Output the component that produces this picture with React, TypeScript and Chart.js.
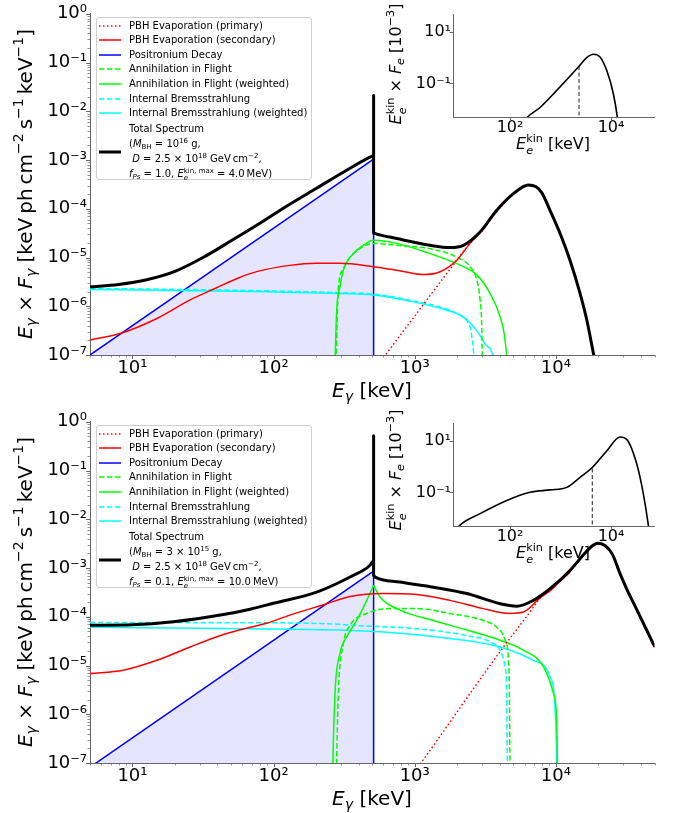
import React, { useEffect, useRef } from 'react';
import { Chart, registerables } from 'chart.js';

Chart.register(...registerables);

const FONT = '"DejaVu Sans", Verdana, sans-serif';

// ---------------- axes ----------------
const mainXMin = 5;
const mainXMax = 5e4;
const mainYMin = 1e-7;
const mainYMax = 1;
const insetXMin = 7.4;
const insetXMax = 7.1e4;
const insetYMin = 5e-3;
const insetYMax = 50;
const insetXTickValues = [100, 10000];
const insetYTickValues = [0.1, 10];
const lineEnergy = 511; // keV, positronium line

// ---------------- top panel (M_BH = 1e16 g) ----------------
const topTotalE = [5, 7.94, 12.6, 20, 31.6, 50, 79.4, 126, 200, 316, 501, 510.5, 511, 511.5, 525, 747, 1285, 1778, 2213, 2904, 3811, 5000, 6383, 7244, 7943, 9120, 10720, 12590, 14790, 16600, 18620, 20890];
const topTotalF = [2.5e-6, 2.8e-6, 3.5e-6, 5.2e-6, 1.0e-5, 2.2e-5, 5.0e-5, 1.17e-4, 2.6e-4, 5.75e-4, 1.2e-3, 1.22e-3, 2.1e-2, 3.2e-5, 3.1e-5, 2.45e-5, 1.78e-5, 1.6e-5, 1.78e-5, 3.34e-5, 9.3e-5, 2.04e-4, 3.09e-4, 2.82e-4, 2.14e-4, 9.1e-5, 3.1e-5, 8.8e-6, 1.9e-6, 5.1e-7, 9.5e-8, 2e-8];
const topPrimaryE = [603, 631, 1000, 1585, 2606, 2904, 3811, 5000, 6383, 7244, 7943, 9120, 10720, 12590, 14790, 16600, 18620, 20890];
const topPrimaryF = [8.9e-8, 1.07e-7, 6.3e-7, 3.7e-6, 2.34e-5, 3.16e-5, 8.7e-5, 2.0e-4, 3.0e-4, 2.75e-4, 2.1e-4, 8.9e-5, 3.0e-5, 8.7e-6, 1.86e-6, 5.0e-7, 9.3e-8, 2e-8];
const topSecondaryE = [5, 8.17, 14.9, 25.6, 39.5, 56.2, 75.9, 130.6, 200, 295, 509, 747, 1151, 1514, 1986, 2466, 2818, 3548];
const topSecondaryF = [2.04e-7, 2.75e-7, 5.6e-7, 1.35e-6, 2.4e-6, 3.8e-6, 5.13e-6, 6.9e-6, 7.6e-6, 7.6e-6, 6.5e-6, 5.5e-6, 4.47e-6, 5.1e-6, 8.8e-6, 1.95e-5, 2.95e-5, 7.0e-5];
const topPositroniumE = [5, 511, 511.3];
const topPositroniumF = [1.0e-7, 1.04e-3, 1e-9];
const topAifE = [275, 288, 309, 348, 417, 509, 747, 1285, 1986, 2466, 2754, 2904, 2985, 3020, 3034];
const topAifF = [5e-8, 2.5e-6, 5.6e-6, 1.02e-5, 1.58e-5, 1.95e-5, 1.78e-5, 1.51e-5, 1.02e-5, 6.5e-6, 3.47e-6, 1.35e-6, 3.8e-7, 5e-8, 1e-8];
const topAifWeightedE = [270.4, 280, 295, 312, 367, 437, 509, 747, 1285, 2213, 2754, 3420, 4027, 4365, 4519, 4571];
const topAifWeightedF = [3.2e-8, 8.3e-7, 2.5e-6, 5.5e-6, 1.2e-5, 1.82e-5, 2.26e-5, 1.95e-5, 1.2e-5, 6.5e-6, 4.4e-6, 1.82e-6, 6.0e-7, 2.0e-7, 5e-8, 1e-8];
const topIbE = [5, 50, 295, 509, 977, 1687, 2213, 2339, 2535, 2630, 2661];
const topIbF = [2.32e-6, 2.14e-6, 1.9e-6, 1.78e-6, 1.29e-6, 8.7e-7, 6.0e-7, 5.25e-7, 2.4e-7, 6.3e-8, 1e-8];
const topIbWeightedE = [5, 50, 295, 509, 977, 1687, 2213, 2754, 3162, 3631, 3890];
const topIbWeightedF = [2.21e-6, 2.04e-6, 1.82e-6, 1.7e-6, 1.23e-6, 8.3e-7, 6.0e-7, 3.16e-7, 1.66e-7, 7.9e-8, 1e-8];

// top inset (electron spectrum)
const topInsetE = [178, 217, 393, 841, 2323, 3296, 4467, 6053, 8204, 11120, 13340, 14130];
const topInsetF = [2.5e-3, 4.7e-3, 1.17e-2, 5.4e-2, 0.465, 1.01, 1.37, 1.08, 0.324, 0.04, 4.8e-3, 1.6e-3];
const topInsetCutE = [2323, 2323];
const topInsetCutF = [1e-3, 0.465];

// ---------------- bottom panel (M_BH = 3e15 g) ----------------
const botTotalE = [5, 10, 19.5, 44.1, 68.1, 99.5, 202, 348, 482, 510.5, 511, 511.5, 525, 787, 1355, 2339, 4027, 5284, 6918, 9099, 12590, 15850, 17780, 19950, 22390, 25120, 28510, 31620, 35480, 39810, 44670, 50120, 56230];
const botTotalF = [6.72e-5, 6.86e-5, 7.89e-5, 1.11e-4, 1.43e-4, 1.89e-4, 3.21e-4, 6.55e-4, 1.14e-3, 1.43e-3, 0.52, 7.0e-4, 6.52e-4, 5.15e-4, 4.05e-4, 3.0e-4, 1.85e-4, 1.65e-4, 2.17e-4, 3.77e-4, 8.9e-4, 1.93e-3, 2.73e-3, 3.21e-3, 2.86e-3, 1.93e-3, 7.7e-4, 3.84e-4, 1.93e-4, 9.7e-5, 4.87e-5, 2.44e-5, 1.22e-5];
const botPrimaryE = [933, 1151, 1585, 2512, 3981, 6310, 7943, 9120, 10720, 12590, 15850, 19950, 22390, 25120, 28510, 31620, 35480, 39810, 44670, 50120, 56230];
const botPrimaryF = [5.2e-8, 1.17e-7, 4.3e-7, 2.88e-6, 1.85e-5, 1.08e-4, 2.61e-4, 3.5e-4, 5.4e-4, 8.4e-4, 1.85e-3, 3.07e-3, 2.73e-3, 1.85e-3, 7.3e-4, 3.7e-4, 1.85e-4, 9.3e-5, 4.66e-5, 2.33e-5, 1.17e-5];
const botSecondaryE = [5, 8.6, 14.9, 25.6, 44.1, 68.1, 89.1, 130.6, 237.7, 348, 600, 1033, 1778, 3062, 4742, 5888, 7727, 9120, 10720, 12590];
const botSecondaryF = [6.86e-6, 8.0e-6, 1.28e-5, 2.4e-5, 4.32e-5, 6.1e-5, 7.34e-5, 1.08e-4, 1.85e-4, 2.61e-4, 3.0e-4, 2.86e-4, 2.17e-4, 1.47e-4, 1.17e-4, 1.25e-4, 2.44e-4, 3.43e-4, 5.35e-4, 8.2e-4];
const botPositroniumE = [5, 511, 511.3];
const botPositroniumF = [8.2e-8, 8.6e-4, 1e-9];
const botAifE = [275, 278.6, 287.7, 312, 348, 457, 668, 1033, 1778, 3062, 3811, 4365, 4613, 4688, 4732, 4764];
const botAifF = [1e-8, 6.9e-8, 2.68e-6, 2.79e-5, 6.72e-5, 1.17e-4, 1.47e-4, 1.47e-4, 1.17e-4, 8.4e-5, 6.1e-5, 3.3e-5, 1.28e-5, 2.68e-6, 6.9e-8, 1e-8];
const botAifWeightedLeftE = [260, 262.4, 272.3, 295, 329.6, 388, 457, 511];
const botAifWeightedLeftF = [1e-8, 6.9e-8, 2.68e-6, 1.76e-5, 3.84e-5, 8.4e-5, 2.17e-4, 4.46e-4];
const botAifWeightedRightE = [511, 567.5, 787, 1355, 2339, 4027, 5888, 8166, 9616, 10140, 10280, 10350];
const botAifWeightedRightF = [4.46e-4, 2.54e-4, 1.37e-4, 8.4e-5, 5.35e-5, 3.3e-5, 2.06e-5, 9.5e-6, 2.68e-6, 7.7e-7, 6.9e-8, 1e-8];
const botIbE = [5, 68.1, 295, 348, 1033, 2339, 3420, 4027, 4365, 4487, 4529, 4571];
const botIbF = [7.6e-5, 7.55e-5, 7.0e-5, 6.72e-5, 5.7e-5, 4.12e-5, 3.07e-5, 2.06e-5, 9.5e-6, 2.68e-6, 6.9e-8, 1e-8];
const botIbWeightedE = [5, 68.1, 295, 600, 1778, 4027, 6918, 9099, 9886, 10140, 10230];
const botIbWeightedF = [6.1e-5, 5.7e-5, 5.35e-5, 4.87e-5, 3.6e-5, 2.4e-5, 1.28e-5, 5.83e-6, 1.22e-6, 1.1e-7, 1e-8];

// bottom inset
const botInsetE = [7.94, 10.2, 25.5, 86.1, 249, 619, 1327, 2432, 4266, 8222, 15070, 20420, 32360, 43650, 54830, 57540];
const botInsetF = [2.8e-3, 5.4e-3, 1.51e-2, 4.9e-2, 0.102, 0.126, 0.158, 0.389, 0.933, 4.12, 14.3, 11.6, 1.27, 8.9e-2, 5.4e-3, 2.5e-3];
const botInsetCutE = [4266, 4266];
const botInsetCutF = [1e-3, 0.933];

// ---------------- legend ----------------
const legendLabels = [
  'PBH Evaporation (primary)',
  'PBH Evaporation (secondary)',
  'Positronium Decay',
  'Annihilation in Flight',
  'Annihilation in Flight (weighted)',
  'Internal Bremsstrahlung',
  'Internal Bremsstrahlung (weighted)',
];

const RED = '#ff0000';
const BLUE = '#0000ff';
const LIME = '#00ff00';
const CYAN = '#00ffff';
const BLACK = '#000000';
const AXIS = '#666666';
const FILL = 'rgba(0,0,255,0.1)';
const DOT = [1.5, 2.5];
const DASH = [5.5, 2.4];

const legendStyles = [
  { color: RED, dash: DOT, width: 1.5 },
  { color: RED, dash: [], width: 1.5 },
  { color: BLUE, dash: [], width: 1.5 },
  { color: LIME, dash: DASH, width: 1.5 },
  { color: LIME, dash: [], width: 1.5 },
  { color: CYAN, dash: DASH, width: 1.5 },
  { color: CYAN, dash: [], width: 1.5 },
];

// ---------------- helpers ----------------
const SUP_CHARS: Record<string, string> = { '0': '⁰', '1': '¹', '2': '²', '3': '³', '4': '⁴', '5': '⁵', '6': '⁶', '7': '⁷', '8': '⁸', '9': '⁹', '-': '⁻' };
function isDecade(v: number) {
  const l = Math.log10(v);
  return Math.abs(l - Math.round(l)) < 1e-6;
}
function decadeLabel(v: number) {
  if (!isDecade(v)) return '';
  const e = Math.round(Math.log10(v));
  return '10' + String(e).split('').map((c) => SUP_CHARS[c]).join('');
}
function logTicks(min: number, max: number) {
  const out: { value: number }[] = [];
  for (let e = Math.floor(Math.log10(min)); e <= Math.ceil(Math.log10(max)); e++) {
    for (let k = 1; k < 10; k++) {
      const v = k * Math.pow(10, e);
      if (v >= min * 0.9999 && v <= max * 1.0001) out.push({ value: v });
    }
  }
  return out;
}
const zip = (xs: number[], ys: number[]) => xs.map((x, i) => ({ x, y: ys[i] }));

function line(xs: number[], ys: number[], color: string, width: number, dash: number[], order: number, extra: any = {}) {
  return {
    data: zip(xs, ys),
    borderColor: color,
    backgroundColor: color,
    borderWidth: width,
    borderDash: dash,
    borderCapStyle: 'butt',
    borderJoinStyle: 'round',
    pointRadius: 0,
    pointHitRadius: 0,
    cubicInterpolationMode: 'monotone',
    fill: false,
    order,
    ...extra,
  };
}
const straight = { cubicInterpolationMode: 'default', tension: 0 };

// total spectrum: smooth continuum left and right of the 511 keV line, straight spike at the line
function totalWithSpike(E: number[], F: number[], color: string, width: number) {
  const k = E.indexOf(lineEnergy);
  return [
    line(E.slice(0, k), F.slice(0, k), color, width, [], 0),
    line(E.slice(k - 1, k + 2), F.slice(k - 1, k + 2), color, width, [], 0, straight),
    line(E.slice(k + 1), F.slice(k + 1), color, width, [], 0),
  ];
}

function makeTickPlugin(majorLen: number, minorLen: number, showMinor: boolean) {
  return {
    id: 'tickMarks',
    afterDraw(chart: any) {
      const { ctx, chartArea } = chart;
      ctx.save();
      ctx.strokeStyle = AXIS;
      ['x', 'y'].forEach((id) => {
        const s = chart.scales[id];
        s.ticks.forEach((t: any) => {
          if (t.value < s.min * 0.9999 || t.value > s.max * 1.0001) return;
          const major = isDecade(t.value);
          if (!major && !showMinor) return;
          const len = major ? majorLen : minorLen;
          const p = Math.round(s.getPixelForValue(t.value)) + 0.5;
          ctx.lineWidth = major ? 1 : 0.7;
          ctx.beginPath();
          if (id === 'x') {
            ctx.moveTo(p, chartArea.bottom);
            ctx.lineTo(p, chartArea.bottom + len);
          } else {
            ctx.moveTo(chartArea.left - len, p);
            ctx.lineTo(chartArea.left, p);
          }
          ctx.stroke();
        });
      });
      ctx.restore();
    },
  };
}

type Geo = {
  yWidth: number; xHeight: number; padTop: number; padRight: number;
  xMin: number; xMax: number; yMin: number; yMax: number;
  fontSize: number; xPad: number; yPad: number;
  xTicks?: number[]; yTicks?: number[];
  minor: boolean; majorLen: number; minorLen: number;
};

function makeConfig(datasets: any[], g: Geo): any {
  const axis = (min: number, max: number, fixed: number[] | undefined, isX: boolean) => ({
    type: 'logarithmic',
    min,
    max,
    position: isX ? 'bottom' : 'left',
    afterBuildTicks: (s: any) => {
      s.ticks = fixed ? fixed.map((v) => ({ value: v })) : logTicks(min, max);
    },
    afterFit: (s: any) => {
      if (isX) s.height = g.xHeight;
      else s.width = g.yWidth;
    },
    grid: { display: false, drawTicks: false, tickLength: 0 },
    border: { display: true, color: AXIS, width: 1 },
    ticks: {
      autoSkip: false,
      maxRotation: 0,
      minRotation: 0,
      padding: isX ? g.xPad : g.yPad,
      color: '#000',
      font: { family: FONT, size: g.fontSize },
      callback: (v: any) => decadeLabel(Number(v)),
    },
  });
  return {
    type: 'line',
    data: { datasets },
    options: {
      responsive: false,
      maintainAspectRatio: false,
      animation: false,
      devicePixelRatio: 1,
      events: [],
      layout: { padding: { top: g.padTop, right: g.padRight, left: 0, bottom: 0 } },
      plugins: { legend: { display: false }, tooltip: { enabled: false }, title: { display: false } },
      scales: {
        x: axis(g.xMin, g.xMax, g.xTicks, true),
        y: axis(g.yMin, g.yMax, g.yTicks, false),
      },
    },
    plugins: [makeTickPlugin(g.majorLen, g.minorLen, g.minor)],
  };
}

const mainGeo: Geo = {
  yWidth: 90, xHeight: 45, padTop: 13, padRight: 21.5,
  xMin: mainXMin, xMax: mainXMax, yMin: mainYMin, yMax: mainYMax,
  fontSize: 18, xPad: 3, yPad: 3, minor: true, majorLen: 4, minorLen: 2.5,
};
const insetGeo: Geo = {
  yWidth: 73, xHeight: 53, padTop: 14, padRight: 22,
  xMin: insetXMin, xMax: insetXMax, yMin: insetYMin, yMax: insetYMax,
  fontSize: 16, xPad: 1, yPad: 2, xTicks: insetXTickValues, yTicks: insetYTickValues,
  minor: false, majorLen: 3.5, minorLen: 2,
};

const topMainConfig = () =>
  makeConfig(
    [
      ...totalWithSpike(topTotalE, topTotalF, BLACK, 3),
      line(topPrimaryE, topPrimaryF, RED, 1.5, DOT, 3),
      line(topSecondaryE, topSecondaryF, RED, 1.5, [], 4),
      line(topAifWeightedE, topAifWeightedF, LIME, 1.5, [], 5),
      line(topAifE, topAifF, LIME, 1.5, DASH, 6),
      line(topIbWeightedE, topIbWeightedF, CYAN, 1.5, [], 7),
      line(topIbE, topIbF, CYAN, 1.5, DASH, 8),
      line(topPositroniumE, topPositroniumF, BLUE, 1.5, [], 9, { ...straight, fill: 'start', backgroundColor: FILL }),
    ],
    mainGeo
  );

const botMainConfig = () =>
  makeConfig(
    [
      ...totalWithSpike(botTotalE, botTotalF, BLACK, 3),
      line(botPrimaryE, botPrimaryF, RED, 1.5, DOT, 3),
      line(botSecondaryE, botSecondaryF, RED, 1.5, [], 4),
      line(botAifWeightedLeftE, botAifWeightedLeftF, LIME, 1.5, [], 5),
      line(botAifWeightedRightE, botAifWeightedRightF, LIME, 1.5, [], 5),
      line(botAifE, botAifF, LIME, 1.5, DASH, 6),
      line(botIbWeightedE, botIbWeightedF, CYAN, 1.5, [], 7),
      line(botIbE, botIbF, CYAN, 1.5, DASH, 8),
      line(botPositroniumE, botPositroniumF, BLUE, 1.5, [], 9, { ...straight, fill: 'start', backgroundColor: FILL }),
    ],
    mainGeo
  );

const insetConfig = (e: number[], f: number[], ce: number[], cf: number[]) => () =>
  makeConfig(
    [
      line(e, f, BLACK, 1.6, [], 0),
      line(ce, cf, '#555555', 1.3, [4, 2.5], 1, straight),
    ],
    insetGeo
  );

// ---------------- text helpers ----------------
const Sup = ({ children }: any) => (
  <span style={{ fontSize: '70%', position: 'relative', top: '-0.62em' }}>{children}</span>
);
const Sub = ({ children }: any) => (
  <span style={{ fontSize: '70%', position: 'relative', top: '0.3em' }}>{children}</span>
);
const SubSup = ({ sub, sup }: any) => (
  <span style={{ display: 'inline-block', position: 'relative', fontSize: '70%', lineHeight: 1 }}>
    <span style={{ visibility: 'hidden' }}>{sup}</span>
    <span style={{ position: 'absolute', left: 0, top: '-0.62em', whiteSpace: 'nowrap' }}>{sup}</span>
    <span style={{ position: 'absolute', left: 0, top: '0.42em' }}>{sub}</span>
  </span>
);

function Label({ cx, cy, size, rotate, children }: any) {
  return (
    <div
      style={{
        position: 'absolute',
        left: cx,
        top: cy,
        transform: `translate(-50%, -50%)${rotate ? ' rotate(-90deg)' : ''}`,
        fontFamily: FONT,
        fontSize: size,
        whiteSpace: 'nowrap',
        lineHeight: 1,
        color: '#000',
      }}
    >
      {children}
    </div>
  );
}

const XTitle = () => (
  <>
    <i>E</i>
    <Sub>
      <i>γ</i>
    </Sub>{' '}
    [keV]
  </>
);
const YTitle = () => (
  <>
    <i>E</i>
    <Sub>
      <i>γ</i>
    </Sub>{' × '}
    <i>F</i>
    <Sub>
      <i>γ</i>
    </Sub>{' [keV\u2009ph\u2009cm'}
    <Sup>−2</Sup>
    {'\u2009s'}
    <Sup>−1</Sup>
    {'\u2009keV'}
    <Sup>−1</Sup>]
  </>
);
const InsetX = () => (
  <>
    <i>E</i>
    <SubSup sub={<i>e</i>} sup="kin" /> [keV]
  </>
);
const InsetY = () => (
  <>
    <i>E</i>
    <SubSup sub={<i>e</i>} sup="kin" />
    {' × '}
    <i>F</i>
    <Sub>
      <i>e</i>
    </Sub>{' [10'}
    <Sup>−3</Sup>]
  </>
);

function Handle({ color, dash, width, top }: any) {
  return (
    <svg width={26} height={10} style={{ position: 'absolute', left: 2, top: top - 5 }}>
      <line x1={0} y1={5} x2={22} y2={5} stroke={color} strokeWidth={width} strokeDasharray={dash.length ? dash.join(' ') : undefined} />
    </svg>
  );
}

function Legend({ top, mass, fps, emax }: any) {
  const row = (y: number, content: any, key: string) => (
    <div key={key} style={{ position: 'absolute', left: 32, top: y - 7, height: 14, lineHeight: '14px', whiteSpace: 'nowrap' }}>
      {content}
    </div>
  );
  return (
    <div
      style={{
        position: 'absolute',
        left: 96,
        top,
        width: 216,
        height: 163,
        boxSizing: 'border-box',
        border: '1px solid #d0d0d0',
        borderRadius: 3,
        background: 'rgba(255,255,255,0.85)',
        fontFamily: FONT,
        fontSize: 10,
        color: '#000',
      }}
    >
      {legendLabels.map((lab, i) => (
        <React.Fragment key={lab}>
          <Handle {...legendStyles[i]} top={7.5 + i * 14.6} />
          {row(7.5 + i * 14.6, lab, 'r' + i)}
        </React.Fragment>
      ))}
      <Handle color={BLACK} dash={[]} width={3} top={133.5} />
      {row(111, 'Total Spectrum', 't0')}
      {row(126, <>(<i>M</i><Sub>BH</Sub> = {mass} g,</>, 't1')}
      {row(141, <>{'\u00a0'}<i>D</i> = 2.5 × 10<Sup>18</Sup> GeV{'\u2009'}cm<Sup>−2</Sup>,</>, 't2')}
      {row(156, <><i>f</i><Sub><i>Ps</i></Sub> = {fps}, <i>E</i><SubSup sub={<i>e</i>} sup="kin, max" /> = {emax}{'\u2009'}MeV)</>, 't3')}
    </div>
  );
}

function ChartCanvas({ config, left, top, width, height }: any) {
  const ref = useRef<HTMLCanvasElement>(null);
  useEffect(() => {
    const chart = new Chart(ref.current as HTMLCanvasElement, config());
    return () => chart.destroy();
  }, []);
  return <canvas ref={ref} width={width} height={height} style={{ position: 'absolute', left, top, width, height }} />;
}

export default function App() {
  return (
    <div style={{ position: 'fixed', left: 0, top: 0, width: 676, height: 813, overflow: 'hidden', background: '#fff' }}>
      <ChartCanvas config={topMainConfig} left={0} top={0} width={676} height={400} />
      <ChartCanvas config={botMainConfig} left={0} top={408} width={676} height={400} />
      <ChartCanvas config={insetConfig(topInsetE, topInsetF, topInsetCutE, topInsetCutF)} left={380} top={0} width={296} height={170} />
      <ChartCanvas config={insetConfig(botInsetE, botInsetF, botInsetCutE, botInsetCutF)} left={380} top={409} width={296} height={170} />

      <Label cx={372} cy={390} size={20}><XTitle /></Label>
      <Label cx={372} cy={798} size={20}><XTitle /></Label>
      <Label cx={25} cy={184} size={20} rotate><YTitle /></Label>
      <Label cx={25} cy={592} size={20} rotate><YTitle /></Label>

      <Label cx={396} cy={64} size={16} rotate><InsetY /></Label>
      <Label cx={553} cy={144} size={16}><InsetX /></Label>
      <Label cx={396} cy={470} size={16} rotate><InsetY /></Label>
      <Label cx={553} cy={553} size={16}><InsetX /></Label>

      <Legend top={17} mass={<>10<Sup>16</Sup></>} fps="1.0" emax="4.0" />
      <Legend top={425} mass={<>3 × 10<Sup>15</Sup></>} fps="0.1" emax="10.0" />
    </div>
  );
}
